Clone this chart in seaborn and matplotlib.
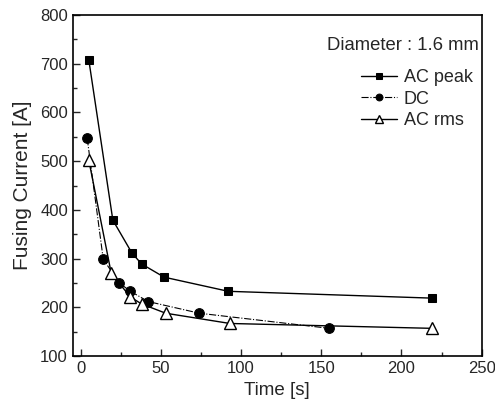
import numpy as np
import pandas as pd
import matplotlib
matplotlib.use("Agg")
import matplotlib.pyplot as plt
import seaborn as sns
from matplotlib.ticker import MultipleLocator

# data
t_peak = [5, 20, 32, 38, 52, 92, 219]
i_peak = [708, 379, 311, 289, 262, 233, 219]

t_dc = [4, 14, 24, 31, 42, 74, 155]
i_dc = [547, 299, 250, 233, 212, 188, 157]

t_rms = [5, 19, 31, 38, 53, 93, 219]
i_rms = [502, 270, 221, 207, 188, 167, 157]

sns.set_style("ticks")
plt.rcParams["font.family"] = ["Liberation Sans", "DejaVu Sans"]

fig = plt.figure(figsize=(4.95, 4.17), dpi=100)
ax = fig.add_axes([0.147, 0.146, 0.826, 0.818])

sns.lineplot(x=t_peak, y=i_peak, ax=ax, color="black", lw=1.0, marker="s",
             markersize=6, markeredgecolor="black", sort=False, label="AC peak")
sns.lineplot(x=t_dc, y=i_dc, ax=ax, color="black", lw=0.8, ls="-.", marker="o",
             markersize=7, markeredgecolor="black", sort=False, label="DC")
sns.lineplot(x=t_rms, y=i_rms, ax=ax, color="black", lw=1.0, marker="^",
             markersize=8, markerfacecolor="white", markeredgecolor="black",
             markeredgewidth=1.0, sort=False, label="AC rms")

ax.set_xlim(-5, 250)
ax.set_ylim(100, 800)
ax.xaxis.set_major_locator(MultipleLocator(50))
ax.xaxis.set_minor_locator(MultipleLocator(25))
ax.yaxis.set_major_locator(MultipleLocator(100))
ax.yaxis.set_minor_locator(MultipleLocator(50))
ax.tick_params(which="both", direction="in", labelsize=12, width=1.0)
ax.tick_params(which="major", length=5)
ax.tick_params(which="minor", length=3)
for s in ax.spines.values():
    s.set_linewidth(1.2)
    s.set_color("black")

ax.set_xlabel("Time [s]", fontsize=13.5)
ax.set_ylabel("Fusing Current [A]", fontsize=15, labelpad=6)

ax.text(0.993, 0.912, "Diameter : 1.6 mm", transform=ax.transAxes,
        ha="right", va="center", fontsize=13.3)
ax.legend(loc="upper right", bbox_to_anchor=(0.983, 0.847), frameon=False,
          fontsize=13, handlelength=2.0, handletextpad=0.4, markerscale=0.7,
          labelspacing=0.25, borderpad=0.1, borderaxespad=0.0)

fig.savefig("out.png", dpi=100)
